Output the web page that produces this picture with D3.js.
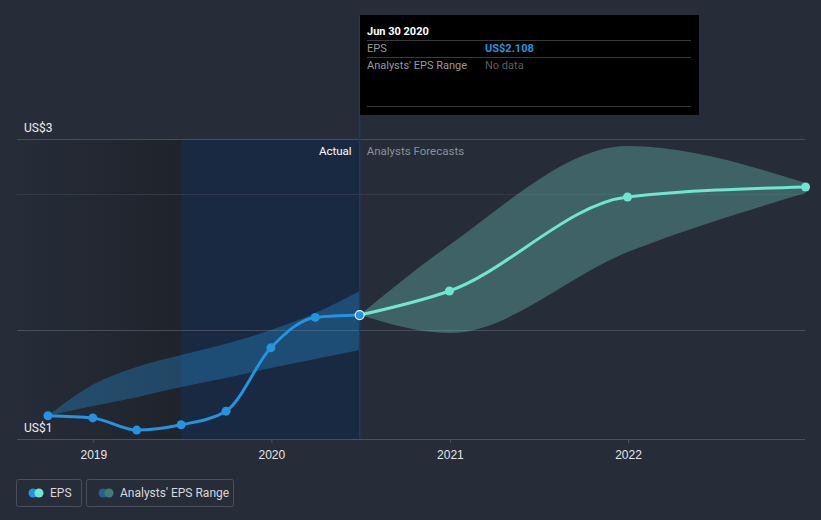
<!DOCTYPE html>
<html><head><meta charset="utf-8">
<script src="https://cdn.jsdelivr.net/npm/d3@7"></script>
<style>
html,body{margin:0;padding:0;background:#262c38;}
svg{display:block;font-family:Roboto, "Open Sans", sans-serif;}
</style></head>
<body>
<svg id="chart" width="821" height="520"></svg>
<script>
// ---- data ----
const actualDates = ["2018-09-30","2018-12-31","2019-03-31","2019-06-30","2019-09-30","2019-12-31","2020-03-31","2020-06-30"];
const actualEPS   = [1.598, 1.587, 1.525, 1.552, 1.621, 1.942, 2.096, 2.108];
const pastRangeHigh = [1.598, 1.755, 1.845, 1.905, 1.963, 2.032, 2.118, 2.230];
const pastRangeLow  = [1.598, 1.647, 1.692, 1.743, 1.789, 1.840, 1.885, 1.931];
const forecastDates = ["2020-06-30","2020-12-31","2021-12-31","2022-12-31"];
const forecastEPS   = [2.108, 2.230, 2.706, 2.757];
const forecastHigh  = [2.108, 2.463, 2.965, 2.777];
const forecastLow   = [2.108, 2.017, 2.427, 2.726];
const xTickLabels = ["2019","2020","2021","2022"];
const yTickValues = [3.0, 1.48];
const yTickLabels = ["US$3","US$1"];
const gridValues = [3.0, 2.72, 2.03];

// ---- scales ----
const parse = d3.timeParse("%Y-%m-%d");
const svg = d3.select("#chart");
const plotLeft = 17, plotRight = 805, plotTop = 139, plotBottom = 439;
const x = d3.scaleTime()
  .domain([parse("2019-01-01"), parse("2022-01-01")])
  .range([93.3, 628]);
const y = d3.scaleLinear().domain([1.48, 3.0]).range([plotBottom, plotTop]);

const actual = actualDates.map((d,i)=>({date:parse(d), v:actualEPS[i], hi:pastRangeHigh[i], lo:pastRangeLow[i]}));
const fc = forecastDates.map((d,i)=>({date:parse(d), v:forecastEPS[i], hi:forecastHigh[i], lo:forecastLow[i]}));
const nowX = x(parse("2020-06-30"));
const oneYearAgoX = x(parse("2019-06-30"));

// ---- backgrounds ----
const defs = svg.append("defs");
const g1 = defs.append("linearGradient").attr("id","pastGrad").attr("x1","0").attr("x2","1").attr("y1","0").attr("y2","0");
g1.append("stop").attr("offset","0").attr("stop-color","#262c38");
g1.append("stop").attr("offset","1").attr("stop-color","#1f232b");
svg.append("rect").attr("x",plotLeft).attr("y",plotTop).attr("width",oneYearAgoX-plotLeft).attr("height",plotBottom-plotTop).attr("fill","url(#pastGrad)");
svg.append("rect").attr("x",oneYearAgoX).attr("y",plotTop).attr("width",nowX-oneYearAgoX).attr("height",plotBottom-plotTop).attr("fill","#1a2942");

// ---- gridlines ----
svg.selectAll("line.grid").data(gridValues).join("line").attr("class","grid")
  .attr("x1",plotLeft).attr("x2",plotRight).attr("y1",d=>Math.round(y(d))+0.5).attr("y2",d=>Math.round(y(d))+0.5)
  .attr("stroke",(d,i)=> i===1 ? "#323947" : "#464c59").attr("stroke-width",1);

// ---- range bands ----
const area = d3.area().x(d=>x(d.date)).y0(d=>y(d.lo)).y1(d=>y(d.hi)).curve(d3.curveMonotoneX);
svg.append("path").datum(actual).attr("d",area).attr("fill","#2394df").attr("fill-opacity",0.33);
svg.append("path").datum(fc).attr("d",area).attr("fill","#6cc9bb").attr("fill-opacity",0.35);

// ---- now line ----
svg.append("line").attr("x1",nowX).attr("x2",nowX).attr("y1",15).attr("y2",plotBottom)
  .attr("stroke","#1e3a62").attr("stroke-width",1.5);

// ---- x axis ----
const xAxis = d3.axisBottom(x)
  .tickValues(xTickLabels.map(t=>parse(t+"-01-01")))
  .tickFormat(d=>d3.timeFormat("%Y")(d)).tickSize(4).tickSizeOuter(0);
const ax = svg.append("g").attr("transform",`translate(0,${plotBottom})`).call(xAxis);
ax.select(".domain").remove();
ax.selectAll(".tick line").attr("stroke","#4a505c");
ax.selectAll(".tick text").attr("fill","#e6e6e6").attr("font-size",12).attr("dy","1.05em");
svg.append("line").attr("x1",plotLeft).attr("x2",plotRight).attr("y1",plotBottom+0.5).attr("y2",plotBottom+0.5).attr("stroke","#4a505c");

// ---- y labels ----
svg.selectAll("text.ylab").data(yTickValues).join("text").attr("class","ylab")
  .attr("x",24).attr("y",d=>y(d)-7).attr("fill","#eeeeee").attr("font-size",12)
  .text((d,i)=>yTickLabels[i]);

// ---- lines ----
const line = d3.line().x(d=>x(d.date)).y(d=>y(d.v)).curve(d3.curveMonotoneX);
svg.append("path").datum(fc).attr("d",line).attr("fill","none").attr("stroke","#6ee6d2").attr("stroke-width",3);
svg.append("path").datum(actual).attr("d",line).attr("fill","none").attr("stroke","#2394df").attr("stroke-width",3);
svg.selectAll("circle.fc").data(fc.slice(1)).join("circle").attr("class","fc")
  .attr("cx",d=>x(d.date)).attr("cy",d=>y(d.v)).attr("r",4.5).attr("fill","#6ee6d2");
svg.selectAll("circle.act").data(actual.slice(0,-1)).join("circle").attr("class","act")
  .attr("cx",d=>x(d.date)).attr("cy",d=>y(d.v)).attr("r",4.5).attr("fill","#2394df");
const last = actual[actual.length-1];
svg.append("circle").attr("cx",x(last.date)).attr("cy",y(last.v)).attr("r",4.5)
  .attr("fill","#2394df").attr("stroke","#e8eef5").attr("stroke-width",1.2);

// ---- Actual / forecast labels ----
svg.append("text").attr("x",nowX-8).attr("y",155).attr("text-anchor","end").attr("fill","#ffffff").attr("font-size",11.5).text("Actual");
svg.append("text").attr("x",nowX+7).attr("y",155).attr("fill","#8a9099").attr("font-size",11.5).text("Analysts Forecasts");

// ---- tooltip ----
const tt = svg.append("g").attr("transform","translate(360,15)");
tt.append("rect").attr("width",339).attr("height",100).attr("fill","#000000");
tt.append("text").attr("x",7).attr("y",20).attr("fill","#ffffff").attr("font-size",11).attr("font-weight","bold").text("Jun 30 2020");
[25.5,42.5,91.5].forEach(yy=>tt.append("line").attr("x1",7).attr("x2",331).attr("y1",yy).attr("y2",yy).attr("stroke","#3a3a3a"));
tt.append("text").attr("x",7).attr("y",37).attr("fill","#9a9a9a").attr("font-size",11).text("EPS");
tt.append("text").attr("x",125).attr("y",37).attr("fill","#2394df").attr("font-size",11).attr("font-weight","bold").text("US$" + actualEPS[actualEPS.length-1].toFixed(3));
tt.append("text").attr("x",7).attr("y",54).attr("fill","#9a9a9a").attr("font-size",11).text("Analysts' EPS Range");
tt.append("text").attr("x",125).attr("y",54).attr("fill","#5e5e5e").attr("font-size",11).text("No data");

// ---- legend ----
const lg = svg.append("g");
lg.append("rect").attr("x",16.5).attr("y",479.5).attr("width",65).attr("height",27).attr("rx",2).attr("fill","none").attr("stroke","#4a505c");
lg.append("circle").attr("cx",33).attr("cy",493).attr("r",4.5).attr("fill","#2394df");
lg.append("circle").attr("cx",39).attr("cy",493).attr("r",4.5).attr("fill","#6ee6d2");
lg.append("text").attr("x",50).attr("y",497).attr("fill","#d8d8d8").attr("font-size",12).text("EPS");
lg.append("rect").attr("x",86.5).attr("y",479.5).attr("width",147).attr("height",27).attr("rx",2).attr("fill","none").attr("stroke","#4a505c");
lg.append("circle").attr("cx",103).attr("cy",493).attr("r",4.5).attr("fill","#2a5f8c");
lg.append("circle").attr("cx",109).attr("cy",493).attr("r",4.5).attr("fill","#3e7d7c");
lg.append("text").attr("x",120).attr("y",497).attr("fill","#d8d8d8").attr("font-size",12).text("Analysts' EPS Range");
</script>
</body></html>
